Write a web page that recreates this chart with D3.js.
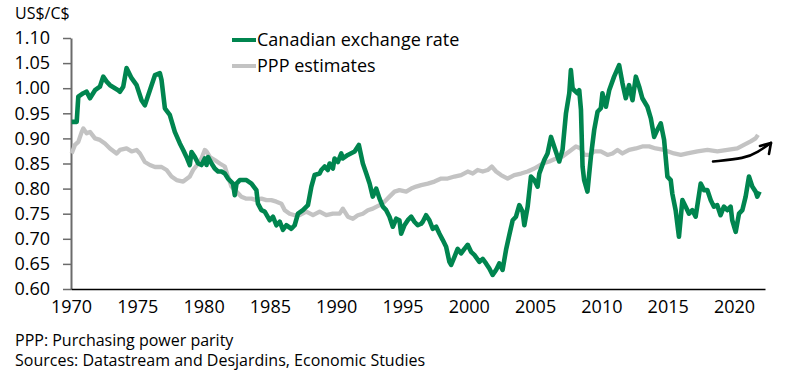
<!DOCTYPE html>
<html>
<head>
<meta charset="utf-8">
<script src="https://cdn.jsdelivr.net/npm/d3@7"></script>
<style>
  body { margin: 0; background: #fff; }
  svg { display: block; font-family: "Open Sans", sans-serif; }
</style>
</head>
<body>
<svg id="chart" width="803" height="372"></svg>
<script>
// values (decimal years)
var cadYears = [1970.05,1970.43,1970.55,1970.93,1971.18,1971.43,1971.81,1972.18,1972.43,1972.69,1972.94,1973.56,1973.69,1973.94,1974.19,1974.57,1974.95,1975.32,1975.57,1975.95,1976.33,1976.70,1976.83,1977.08,1977.45,1977.83,1978.21,1978.46,1978.71,1978.96,1979.09,1979.34,1979.59,1979.84,1980.09,1980.22,1980.34,1980.60,1980.84,1981.09,1981.35,1981.60,1981.84,1982.22,1982.35,1982.48,1982.73,1983.23,1983.61,1983.98,1984.10,1984.36,1984.61,1984.98,1985.23,1985.49,1985.74,1985.99,1986.24,1986.62,1986.87,1987.12,1987.49,1987.87,1988.13,1988.37,1988.75,1988.88,1989.13,1989.37,1989.50,1989.75,1989.88,1990.13,1990.38,1990.50,1990.88,1991.39,1991.71,1992.01,1992.27,1992.52,1992.76,1993.02,1993.27,1993.52,1993.77,1994.02,1994.27,1994.53,1994.77,1994.90,1995.15,1995.40,1995.66,1995.90,1996.15,1996.41,1996.53,1996.78,1997.03,1997.28,1997.54,1997.79,1998.03,1998.29,1998.54,1998.67,1998.92,1999.16,1999.42,1999.67,1999.92,2000.17,2000.42,2000.80,2001.05,2001.30,2001.55,2001.80,2002.06,2002.30,2002.55,2002.81,2003.06,2003.31,2003.56,2003.81,2004.06,2004.19,2004.44,2004.69,2004.94,2005.19,2005.32,2005.69,2005.94,2006.20,2006.45,2006.82,2007.07,2007.33,2007.58,2007.70,2007.83,2007.95,2008.20,2008.33,2008.46,2008.58,2008.70,2008.95,2009.21,2009.46,2009.71,2009.96,2010.08,2010.34,2010.59,2010.96,2011.34,2011.59,2011.84,2012.09,2012.35,2012.60,2012.85,2013.09,2013.47,2013.73,2013.98,2014.22,2014.48,2014.73,2014.98,2015.23,2015.35,2015.60,2015.85,2016.11,2016.36,2016.61,2016.86,2017.11,2017.49,2017.74,2017.99,2018.25,2018.49,2018.74,2018.99,2019.24,2019.50,2019.75,2019.87,2020.13,2020.38,2020.63,2020.88,2021.13,2021.38,2021.63,2021.76,2021.93];
var cadValues = [0.933,0.933,0.983,0.990,0.993,0.980,0.996,1.003,1.023,1.013,1.006,0.996,0.993,1.003,1.040,1.020,1.006,0.976,0.966,0.996,1.026,1.030,1.016,0.960,0.947,0.913,0.890,0.877,0.863,0.847,0.873,0.863,0.850,0.847,0.860,0.847,0.863,0.850,0.840,0.834,0.834,0.830,0.820,0.810,0.787,0.810,0.817,0.817,0.810,0.797,0.770,0.757,0.754,0.737,0.744,0.727,0.734,0.718,0.727,0.720,0.727,0.750,0.757,0.767,0.804,0.827,0.830,0.837,0.844,0.837,0.850,0.840,0.860,0.853,0.870,0.860,0.867,0.874,0.887,0.850,0.830,0.810,0.784,0.800,0.780,0.764,0.757,0.744,0.724,0.740,0.737,0.710,0.727,0.737,0.744,0.734,0.727,0.730,0.734,0.747,0.737,0.720,0.724,0.710,0.698,0.684,0.654,0.648,0.664,0.680,0.671,0.680,0.688,0.674,0.668,0.654,0.660,0.651,0.641,0.628,0.638,0.651,0.638,0.678,0.708,0.737,0.744,0.767,0.754,0.727,0.764,0.824,0.817,0.804,0.830,0.857,0.870,0.903,0.883,0.854,0.877,0.950,0.990,1.036,1.000,0.996,0.990,0.996,0.957,0.844,0.817,0.794,0.864,0.917,0.953,0.960,0.990,0.963,0.996,1.023,1.046,1.010,0.980,1.006,0.976,1.023,1.003,0.980,0.963,0.940,0.903,0.917,0.930,0.897,0.824,0.817,0.790,0.757,0.704,0.777,0.764,0.750,0.757,0.744,0.810,0.797,0.797,0.777,0.764,0.767,0.747,0.764,0.757,0.764,0.737,0.714,0.750,0.757,0.784,0.824,0.804,0.794,0.784,0.794];

var pppYears = [1970.05,1970.30,1970.55,1970.81,1970.93,1971.18,1971.43,1971.81,1972.18,1972.56,1972.94,1973.44,1973.69,1974.19,1974.57,1974.95,1975.20,1975.57,1975.95,1976.33,1976.83,1977.21,1977.58,1977.96,1978.46,1978.96,1979.21,1979.59,1979.84,1980.09,1980.22,1980.47,1980.84,1981.22,1981.60,1981.84,1982.10,1982.48,1982.85,1983.23,1983.61,1983.98,1984.36,1984.74,1985.11,1985.49,1985.87,1986.12,1986.49,1986.87,1987.24,1987.75,1988.25,1988.75,1989.25,1989.75,1990.26,1990.50,1990.88,1991.26,1991.63,1992.01,1992.39,1992.76,1993.27,1993.64,1994.02,1994.40,1994.77,1995.28,1995.66,1996.03,1996.41,1996.91,1997.41,1997.92,1998.41,1998.92,1999.42,1999.92,2000.30,2000.67,2001.05,2001.42,2001.73,2002.06,2002.43,2002.93,2003.43,2003.94,2004.44,2004.94,2005.57,2006.07,2006.58,2007.07,2007.58,2008.08,2008.46,2008.70,2009.08,2009.46,2009.96,2010.46,2010.84,2011.21,2011.59,2012.09,2012.60,2013.09,2013.60,2014.10,2014.73,2015.48,2015.99,2016.49,2017.25,2018.00,2018.75,2019.50,2020.25,2020.75,2021.26,2021.63,2021.81];
var pppValues = [0.870,0.887,0.893,0.913,0.920,0.910,0.913,0.900,0.897,0.890,0.880,0.870,0.877,0.880,0.874,0.877,0.870,0.853,0.847,0.843,0.843,0.837,0.824,0.817,0.814,0.824,0.837,0.850,0.860,0.877,0.874,0.863,0.857,0.850,0.844,0.824,0.804,0.794,0.784,0.780,0.780,0.777,0.780,0.777,0.777,0.774,0.770,0.757,0.750,0.747,0.747,0.754,0.747,0.754,0.747,0.750,0.750,0.760,0.744,0.740,0.747,0.750,0.757,0.760,0.767,0.774,0.784,0.794,0.797,0.794,0.800,0.804,0.807,0.810,0.814,0.820,0.820,0.824,0.827,0.834,0.830,0.837,0.834,0.837,0.844,0.834,0.827,0.820,0.827,0.830,0.834,0.840,0.850,0.854,0.860,0.864,0.874,0.884,0.880,0.867,0.867,0.874,0.874,0.867,0.870,0.877,0.870,0.877,0.880,0.884,0.884,0.880,0.877,0.870,0.867,0.870,0.874,0.877,0.874,0.877,0.880,0.887,0.894,0.900,0.907];

var yTicks = [0.60,0.65,0.70,0.75,0.80,0.85,0.90,0.95,1.00,1.05,1.10];
var xTicks = [1970,1975,1980,1985,1990,1995,2000,2005,2010,2015,2020];
var seriesNames = ["Canadian exchange rate", "PPP estimates"];

// hand drawn arrow near the end of the PPP line
var arrowYears = [2018.42, 2020.83, 2021.81, 2022.79];
var arrowValues = [0.854, 0.860, 0.873, 0.891];

var green = "#00854f";
var grey = "#c3c3c3";

var svg = d3.select("#chart");

var x = d3.scaleLinear().domain([1970, 2022.34]).range([71, 765]);
var y = d3.scaleLinear().domain([0.6, 1.1]).range([289, 38]);

function toPoints(xs, vs){
    return xs.map(function(d, i){ return {x: d, y: vs[i]}; });
}

var line = d3.line()
    .x(function(d){ return x(d.x); })
    .y(function(d){ return y(d.y); });

// y axis
var yAxis = svg.append("g")
    .attr("transform", "translate(71,0)")
    .call(d3.axisLeft(y).tickValues(yTicks).tickFormat(d3.format(".2f")).tickSize(8).tickSizeOuter(0).tickPadding(13));
yAxis.select(".domain").attr("stroke", "#6b6b6b").attr("stroke-width", 2);
yAxis.selectAll(".tick line").attr("stroke", "#6b6b6b").attr("stroke-width", 1.5);
yAxis.selectAll("text").attr("font-size", 18).attr("fill", "#000").attr("font-family", "Open Sans");

// lines
svg.append("path")
    .datum(toPoints(pppYears, pppValues))
    .attr("d", line)
    .attr("fill", "none")
    .attr("stroke", grey)
    .attr("stroke-width", 4.3)
    .attr("stroke-linejoin", "round");

svg.append("path")
    .datum(toPoints(cadYears, cadValues))
    .attr("d", line)
    .attr("fill", "none")
    .attr("stroke", green)
    .attr("stroke-width", 4.6)
    .attr("stroke-linejoin", "round");

// x axis
var xAxis = svg.append("g")
    .attr("transform", "translate(0,289)")
    .call(d3.axisBottom(x).tickValues(xTicks).tickFormat(d3.format("d")).tickSize(0).tickPadding(11));
xAxis.select(".domain").attr("stroke", "#000").attr("stroke-width", 1.5);
xAxis.selectAll("text").attr("font-size", 18).attr("fill", "#000").attr("font-family", "Open Sans");

// arrow
var arrowPts = toPoints(arrowYears, arrowValues);
svg.append("path")
    .datum(arrowPts)
    .attr("d", d3.line().x(function(d){ return x(d.x); }).y(function(d){ return y(d.y); }).curve(d3.curveBasis))
    .attr("fill", "none")
    .attr("stroke", "#000")
    .attr("stroke-width", 2.6)
    .attr("stroke-linecap", "round");
var tip = arrowPts[arrowPts.length - 1];
var tx = x(tip.x), ty = y(tip.y);
svg.append("path")
    .attr("d", "M" + (tx - 11) + "," + (ty + 3) + "L" + tx + "," + ty + "L" + (tx - 2) + "," + (ty + 11))
    .attr("fill", "none")
    .attr("stroke", "#000")
    .attr("stroke-width", 2.6)
    .attr("stroke-linecap", "round")
    .attr("stroke-linejoin", "round");

// legend
var legend = svg.append("g");
[green, grey].forEach(function(c, i){
    var ly = 40 + i * 26;
    legend.append("line")
        .attr("x1", 232).attr("x2", 256)
        .attr("y1", ly).attr("y2", ly)
        .attr("stroke", c)
        .attr("stroke-width", 4);
    legend.append("text")
        .attr("x", 257)
        .attr("y", ly + 6)
        .attr("font-size", 18)
        .attr("fill", "#000")
        .text(seriesNames[i]);
});

// titles and notes
svg.append("text").attr("x", 15).attr("y", 18.5).attr("font-size", 16).attr("fill", "#000").text("US$/C$");
svg.append("text").attr("x", 15).attr("y", 345.5).attr("font-size", 16).attr("fill", "#000").text("PPP: Purchasing power parity");
svg.append("text").attr("x", 15).attr("y", 366).attr("font-size", 16).attr("fill", "#000").text("Sources: Datastream and Desjardins, Economic Studies");
</script>
</body>
</html>
